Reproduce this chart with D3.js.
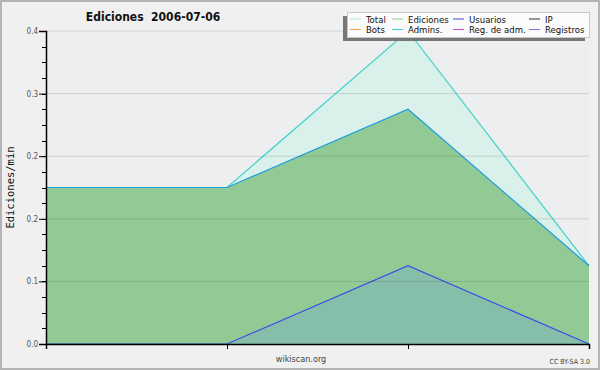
<!DOCTYPE html>
<html>
<head>
<meta charset="utf-8">
<script src="https://cdn.jsdelivr.net/npm/d3@7"></script>
<style>
  body { margin: 0; background: #f0f0f0; }
  svg { display: block; font-family: "DejaVu Sans Condensed", "DejaVu Sans", sans-serif; }
</style>
</head>
<body>
<div id="chart"></div>
<script>
// data points (4 samples, no x labels on the chart)
const slots = [0, 1, 2, 3];
const total = [0.2, 0.2, 0.4, 0.1];
const ediciones = [0.2, 0.2, 0.3, 0.1];
const usuarios = [0, 0, 0.1, 0];
const yTicks = [0, 0.08, 0.16, 0.24, 0.32, 0.4];

const legendRows = [
    [['Total', '#aee8e0'], ['Ediciones', '#8fd08f'], ['Usuarios', '#4444dd'], ['IP', '#333333']],
    [['Bots', '#ffa040'], ['Admins.', '#44ccdd'], ['Reg. de adm.', '#cc44dd'], ['Registros', '#7777ee']]
];

class AreaChart {
    width; height; margin;
    svg; plot; scaleX; scaleY;

    // margin -> [top, bottom, left, right]
    constructor(container, width, height, margin){
        this.width = width;
        this.height = height;
        this.margin = margin;

        this.svg = d3.select(container).append('svg')
            .attr('width', width).attr('height', height);

        this.svg.append('rect')
            .attr('x', 1).attr('y', 1)
            .attr('width', width - 2).attr('height', height - 2)
            .attr('fill', '#f0f0f0').attr('stroke', '#b4b4b4').attr('stroke-width', 2);

        this.plot = this.svg.append('g')
            .attr('transform', `translate(${margin[2]},${margin[0]})`);

        let w = width - margin[2] - margin[3], h = height - margin[0] - margin[1];
        this.scaleX = d3.scalePoint(slots, [0, w]);
        this.scaleY = d3.scaleLinear([0, 0.4], [h, 0]);
        this.plot.append('rect').attr('width', w).attr('height', h).attr('fill', '#eceef0');
    }

    #area(values, fill, stroke){
        let area = d3.area()
            .x((d, i) => this.scaleX(slots[i]))
            .y0(this.scaleY(0))
            .y1(d => this.scaleY(d));
        let line = d3.line()
            .x((d, i) => this.scaleX(slots[i]))
            .y(d => this.scaleY(d));
        this.plot.append('path').attr('d', area(values)).attr('fill', fill);
        this.plot.append('path').attr('d', line(values))
            .attr('fill', 'none').attr('stroke', stroke).attr('stroke-width', 1.2);
    }

    #axes(){
        let w = this.scaleX.range()[1];
        // grid
        this.plot.append('g').selectAll('line').data(yTicks.slice(1)).join('line')
            .attr('x1', 0).attr('x2', w)
            .attr('y1', d => this.scaleY(d)).attr('y2', d => this.scaleY(d))
            .attr('stroke', 'rgba(0,0,0,0.12)');

        // minor y ticks
        this.plot.append('g').selectAll('line').data(d3.range(0, 0.401, 0.02)).join('line')
            .attr('x1', -4).attr('x2', 0)
            .attr('y1', d => Math.round(this.scaleY(d)) + 0.5).attr('y2', d => Math.round(this.scaleY(d)) + 0.5)
            .attr('stroke', '#000');

        let axisY = d3.axisLeft(this.scaleY).tickValues(yTicks)
            .tickFormat(d3.format('.1f')).tickSize(7).tickPadding(1);
        let gy = this.plot.append('g').call(axisY);
        gy.select('.domain').attr('stroke', '#000').attr('stroke-width', 1.5);
        gy.selectAll('text').attr('font-size', 8).attr('fill', '#555')
            .attr('font-family', '"DejaVu Sans Condensed", sans-serif');

        let axisX = d3.axisBottom(this.scaleX).tickSize(5).tickFormat('');
        let gx = this.plot.append('g')
            .attr('transform', `translate(0,${this.scaleY(0)})`).call(axisX);
        gx.select('.domain').attr('stroke', '#000').attr('stroke-width', 1.5);
    }

    #legend(x, y){
        let g = this.svg.append('g').attr('transform', `translate(${x},${y})`);
        g.append('rect').attr('x', -4).attr('y', 4).attr('width', 242).attr('height', 25).attr('fill', '#777');
        g.append('rect').attr('x', 0.5).attr('y', 0.5).attr('width', 242).attr('height', 25)
            .attr('fill', '#fbfbfb').attr('stroke', '#c8c8c8');
        let colX = [3, 45, 106, 182];
        legendRows.forEach((row, r) => {
            row.forEach(([name, color], c) => {
                let ly = 7 + r * 10.5;
                g.append('line').attr('x1', colX[c]).attr('x2', colX[c] + 11)
                    .attr('y1', ly).attr('y2', ly).attr('stroke', color);
                g.append('text').attr('x', colX[c] + 16).attr('y', ly + 3.5)
                    .attr('font-size', 9.5).attr('fill', '#111').text(name);
            });
        });
    }

    render(){
        this.#area(total, '#d9f1ea', '#40d2c8');
        this.#area(ediciones, '#92ca96', '#1f9be0');
        this.#area(usuarios, '#86bfa9', '#3a4ee8');
        this.#axes();
        this.#legend(347, 12);
        return this;
    }

    setTitle(title){
        this.svg.append('text').attr('x', 153).attr('y', 21)
            .style('white-space', 'pre')
            .attr('text-anchor', 'middle').attr('font-size', 12).attr('font-weight', 'bold')
            .attr('fill', '#111').text(title);
        return this;
    }

    setLabels(labelX, labelY){
        this.svg.append('text').attr('x', 301).attr('y', 362)
            .attr('text-anchor', 'middle').attr('font-size', 9).attr('fill', '#444').text(labelX);
        this.svg.append('text')
            .attr('transform', `translate(14,${(this.margin[0] + this.height - this.margin[1]) / 2})rotate(-90)`)
            .attr('text-anchor', 'middle').attr('font-size', 10.5)
            .attr('font-family', '"DejaVu Sans Mono", monospace').attr('fill', '#111').text(labelY);
        this.svg.append('text').attr('x', 590).attr('y', 364)
            .attr('text-anchor', 'end').attr('font-size', 7).attr('fill', '#444').text('CC BY-SA 3.0');
        return this;
    }
}

new AreaChart('#chart', 600, 370, [31, 26, 46, 11])
    .render()
    .setTitle('Ediciones  2006-07-06')
    .setLabels('wikiscan.org', 'Ediciones/min');
</script>
</body>
</html>
